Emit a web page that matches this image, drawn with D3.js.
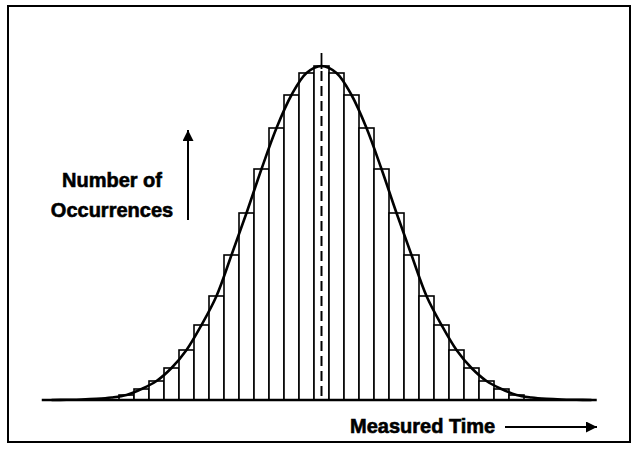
<!DOCTYPE html>
<html>
<head>
<meta charset="utf-8">
<script src="https://cdn.jsdelivr.net/npm/d3@7"></script>
<style>
  body { margin: 0; background: #fff; }
  svg { display: block; }
  text { font-family: "Liberation Sans", Arial, sans-serif; font-weight: bold; fill: #000; stroke: #000; stroke-width: 0.6px; }
</style>
</head>
<body>
<div id="chart"></div>
<script>
// bins are offsets from the mean time, in bin widths
const bins = d3.range(-13, 14);
const counts = [5, 11, 19, 32, 50, 75, 104, 145, 187, 231, 272, 305, 327, 334,
  327, 305, 272, 231, 187, 145, 104, 75, 50, 32, 19, 11, 5];
// extra points where the fitted curve fades into the axis
const tailBins = [-18, -17, -16, -15, -14, 14, 15, 16, 17, 18];
const tailCounts = [0, 0.2, 0.5, 1.2, 2.5, 2.5, 1.2, 0.5, 0.2, 0];
const axisExtent = [-18.65, 18.35];
const yLabel = ["Number of", "Occurrences"];
const xLabel = "Measured Time";

const width = 635, height = 449;

const svg = d3.select("#chart").append("svg")
    .attr("width", width)
    .attr("height", height);

svg.append("defs").append("marker")
    .attr("id", "head")
    .attr("viewBox", "0 0 10 10")
    .attr("refX", 10)
    .attr("refY", 5)
    .attr("markerUnits", "userSpaceOnUse")
    .attr("markerWidth", 18)
    .attr("markerHeight", 11)
    .attr("orient", "auto")
    .append("path")
    .attr("d", "M0,0 L10,5 L0,10 Z")
    .attr("fill", "#000");

// frame
svg.append("rect")
    .attr("x", 8).attr("y", 6)
    .attr("width", 622).attr("height", 436)
    .attr("fill", "none")
    .attr("stroke", "#000")
    .attr("stroke-width", 2);

const x = d3.scaleLinear()
    .domain([-13.5, 13.5])
    .range([119, 524]);

const y = d3.scaleLinear()
    .domain([0, d3.max(counts)])
    .range([400, 66]);

// bars
svg.append("g").selectAll("rect")
    .data(bins)
    .join("rect")
    .attr("x", d => x(d - 0.5))
    .attr("width", x(1) - x(0))
    .attr("y", (d, i) => y(counts[i]))
    .attr("height", (d, i) => y(0) - y(counts[i]))
    .attr("fill", "#fff")
    .attr("stroke", "#000")
    .attr("stroke-width", 1.6);

// mean marker
svg.append("line")
    .attr("x1", x(0)).attr("x2", x(0))
    .attr("y1", 53).attr("y2", y(d3.max(counts)) + 3)
    .attr("stroke", "#000")
    .attr("stroke-width", 1.8);

svg.append("line")
    .attr("x1", x(0)).attr("x2", x(0))
    .attr("y1", y(d3.max(counts)) + 5).attr("y2", y(0) - 2)
    .attr("stroke", "#000")
    .attr("stroke-width", 2)
    .attr("stroke-dasharray", "10,5");

// fitted curve
const curvePts = bins.map((b, i) => [b, counts[i]])
    .concat(tailBins.map((b, i) => [b, tailCounts[i]]))
    .sort((a, b) => a[0] - b[0]);

const line = d3.line()
    .x(d => x(d[0]))
    .y(d => y(d[1]))
    .curve(d3.curveCatmullRom);

svg.append("path")
    .datum(curvePts)
    .attr("d", line)
    .attr("fill", "none")
    .attr("stroke", "#000")
    .attr("stroke-width", 2.6);

// baseline
svg.append("line")
    .attr("x1", x(axisExtent[0])).attr("x2", x(axisExtent[1]))
    .attr("y1", y(0)).attr("y2", y(0))
    .attr("stroke", "#000")
    .attr("stroke-width", 2.6);

// y label and arrow
svg.append("text")
    .attr("text-anchor", "middle")
    .attr("font-size", 20)
    .selectAll("tspan")
    .data(yLabel)
    .join("tspan")
    .attr("x", 112)
    .attr("y", (d, i) => 187 + i * 30)
    .text(d => d);

svg.append("line")
    .attr("x1", 188).attr("x2", 188)
    .attr("y1", 220).attr("y2", 130)
    .attr("stroke", "#000")
    .attr("stroke-width", 2)
    .attr("marker-end", "url(#head)");

// x label and arrow
svg.append("text")
    .attr("x", 350)
    .attr("y", 433)
    .attr("font-size", 20)
    .text(xLabel);

svg.append("line")
    .attr("x1", 505).attr("x2", 597)
    .attr("y1", 427).attr("y2", 427)
    .attr("stroke", "#000")
    .attr("stroke-width", 2)
    .attr("marker-end", "url(#head)");
</script>
</body>
</html>
